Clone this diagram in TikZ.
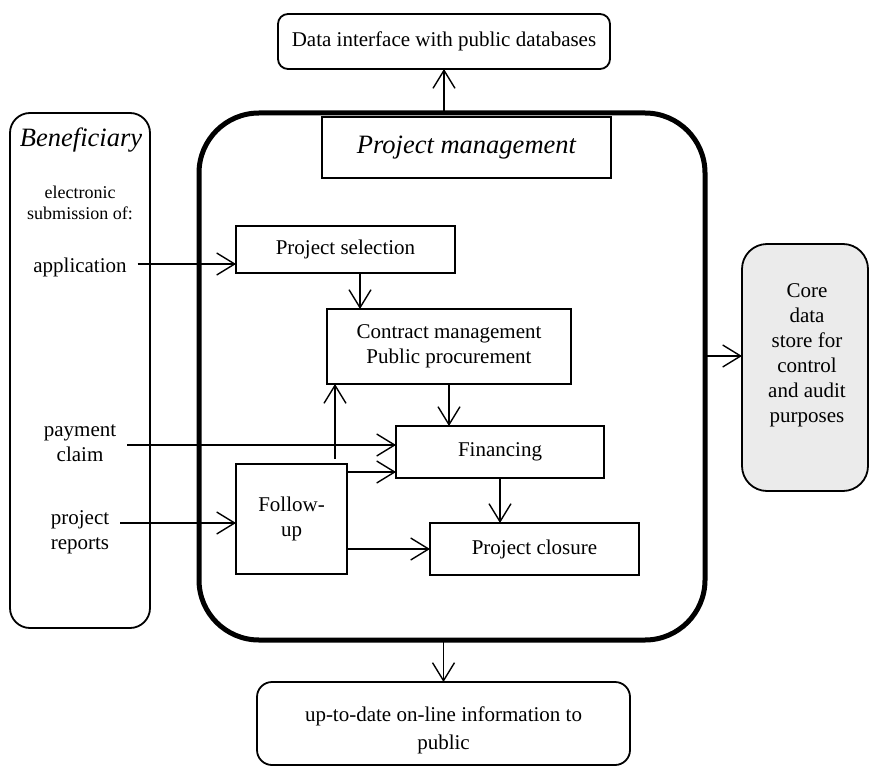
\documentclass[tikz,border=0pt]{standalone}
\usepackage{fontspec}
\setmainfont{Liberation Serif}
\usetikzlibrary{arrows.meta}
\begin{document}
\begin{tikzpicture}[x=1pt,y=-1pt,
  every node/.style={inner sep=0pt,outer sep=0pt,align=center,font=\fontsize{21}{25}\selectfont},
  box/.style={draw,line width=1.8pt,rectangle},
  rbox/.style={box,rounded corners=#1},
  arr/.style={line width=1.4pt,-{Straight Barb[length=18pt,width=22pt,line width=1.4pt]}}
]
\useasboundingbox (0,0) rectangle (869,767);
% containers
\node[rbox=60pt,line width=5pt,minimum width=506pt,minimum height=527pt] (pm) at (452,376.5) {};
\node[rbox=20pt,minimum width=140pt,minimum height=515pt] (ben) at (80,370.5) {};
\node[rbox=10pt,minimum width=332pt,minimum height=55pt] (pub) at (444,41.5) {Data interface with public databases};
\node[box,fill=white,minimum width=289pt,minimum height=61pt,font=\fontsize{26.5}{30}\selectfont\itshape] (pmt) at (466.5,147.5) {Project management};
\node[rbox=25pt,fill=black!8,minimum width=126pt,minimum height=247pt] (core) at (805,367.5) {};
\node (coret) at (807,355) {Core\\data\\store for\\control\\and audit\\purposes};
\node[rbox=15pt,minimum width=373pt,minimum height=83pt] (bot) at (443.5,723.5) {};
\node[font=\fontsize{21}{28}\selectfont] (bott) at (443.5,730) {up-to-date on-line information to\\public};
% beneficiary texts
\node[font=\fontsize{26.5}{30}\selectfont\itshape] (bent) at (81,140) {Beneficiary};
\node[font=\fontsize{18}{21}\selectfont] (esub) at (80,203) {electronic\\submission of:};
\node (app) at (80,267) {application};
\node (pay) at (80,443) {payment\\claim};
\node (rep) at (80,532) {project\\reports};
% inner boxes
\node[box,minimum width=219pt,minimum height=47pt] (ps) at (345.5,249.5) {Project selection};
\node[box,minimum width=244pt,minimum height=75pt] (cm) at (449,346.5) {Contract management\\Public procurement};
\node[box,minimum width=208pt,minimum height=52pt] (fin) at (500,452) {Financing};
\node[box,minimum width=111pt,minimum height=110pt] (fu) at (291.5,519) {Follow-\\up};
\node[box,minimum width=209pt,minimum height=52pt] (pc) at (534.5,549) {Project closure};
% helper coordinates
\coordinate (appA) at ([xshift=11pt,yshift=3pt]app.east);
\coordinate (payA) at ([xshift=11pt,yshift=-2pt]pay.east);
\coordinate (repA) at ([xshift=11pt,yshift=9pt]rep.east);
\coordinate (psA) at ([xshift=14.5pt]ps.south);
\coordinate (fuUp) at ([xshift=43.5pt]fu.north);
\coordinate (fuFin) at ([yshift=47pt]fu.east);
\coordinate (pmCore) at ([yshift=11.5pt]core.west -| pm.east);
% connectors
\draw[arr] (pub.south |- pm.north) -- (pub.south);
\draw[arr] (appA) -- (appA -| ps.west);
\draw[arr] (psA) -- (psA |- cm.north);
\draw[arr] (cm.south) -- (cm.south |- fin.north);
\draw[arr] (payA) -- (payA -| fin.west);
\draw[arr] (repA) -- (repA -| fu.west);
\draw[arr,shorten <=5pt] (fuUp) -- (fuUp |- cm.south);
\draw[arr] (fuFin) -- (fuFin -| fin.west);
\draw[arr] (fu.east |- pc.west) -- (pc.west);
\draw[arr] (fin.south) -- (fin.south |- pc.north);
\draw[arr] (pmCore) -- (pmCore -| core.west);
\draw[arr] (bot.north |- pm.south) -- (bot.north);
\end{tikzpicture}
\end{document}
